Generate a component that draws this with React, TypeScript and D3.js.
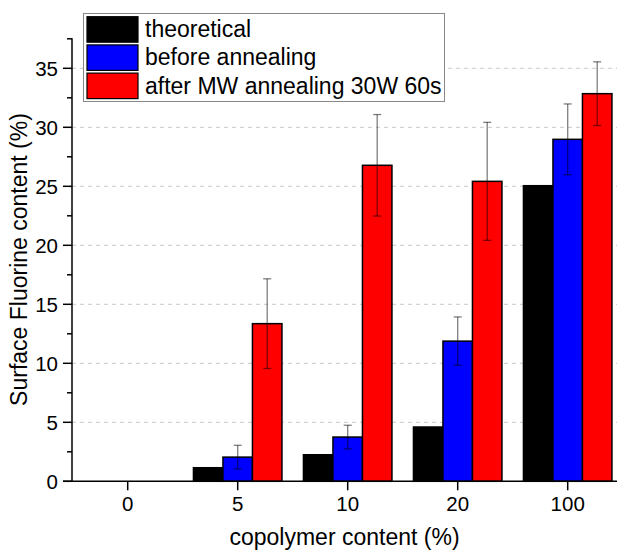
import { useEffect, useRef } from 'react';
import * as d3 from 'd3';

// values
const categories = ['0', '5', '10', '20', '100'];
const seriesNames = ['theoretical', 'before annealing', 'after MW annealing 30W 60s'];
const seriesColors = ['#000000', '#0000ff', '#ff0000'];
const theoretical = [0, 1.15, 2.25, 4.6, 25.05];
const beforeAnnealing = [0, 2.05, 3.75, 11.88, 28.98];
const beforeErr = [0, 1.0, 1.0, 2.05, 3.0];
const afterAnnealing = [0, 13.36, 26.78, 25.42, 32.85];
const afterErr = [0, 3.8, 4.3, 5.0, 2.7];
const majorTicks = [0, 5, 10, 15, 20, 25, 30, 35];
const minorTicks = [2.5, 7.5, 12.5, 17.5, 22.5, 27.5, 32.5, 37.5];

const FONT = '"Liberation Sans", Arial, sans-serif';

const App = () => {
  const svgRef = useRef<SVGSVGElement>(null);

  useEffect(() => {
    if (!svgRef.current) return;
    const svg = d3.select(svgRef.current);
    svg.selectAll('*').remove();

    const left = 72;
    const right = 617;
    const top = 38.8;
    const bottom = 481.3;

    const x = d3.scaleBand().domain(categories).range([72.7, 622.7]);
    const inner = d3.scaleBand().domain(seriesNames).range([-44.25, 44.25]);
    const y = d3.scaleLinear().domain([0, 37.5]).range([bottom, top]);

    const values = [theoretical, beforeAnnealing, afterAnnealing];
    const errors = [null, beforeErr, afterErr];

    // gridlines
    svg
      .selectAll('.grid')
      .data(majorTicks.filter((t) => t > 0))
      .enter()
      .append('line')
      .attr('x1', left)
      .attr('x2', right)
      .attr('y1', (d) => y(d))
      .attr('y2', (d) => y(d))
      .attr('stroke', '#c8c8c8')
      .attr('stroke-width', 1)
      .attr('stroke-dasharray', '4,4');

    // bars
    type Bar = { cat: string; s: number; v: number; e: number | null };
    const bars: Bar[] = [];
    categories.forEach((c, i) => {
      values.forEach((arr, s) => {
        if (arr[i] > 0) bars.push({ cat: c, s, v: arr[i], e: errors[s] ? errors[s]![i] : null });
      });
    });

    const cx = (d: Bar) => x(d.cat)! + x.bandwidth() / 2 + inner(seriesNames[d.s])!;

    svg
      .selectAll('.bar')
      .data(bars)
      .enter()
      .append('rect')
      .attr('x', (d) => cx(d))
      .attr('y', (d) => y(d.v))
      .attr('width', inner.bandwidth())
      .attr('height', (d) => bottom - y(d.v))
      .attr('fill', (d) => seriesColors[d.s])
      .attr('stroke', '#000')
      .attr('stroke-width', 1.5);

    // error bars
    const eb = bars.filter((d) => d.e !== null && d.e > 0);
    const mid = (d: Bar) => cx(d) + inner.bandwidth() / 2;
    const g = svg.append('g').attr('stroke', '#000').attr('stroke-opacity', 0.5).attr('stroke-width', 1.3);
    g.selectAll('.ev')
      .data(eb)
      .enter()
      .append('line')
      .attr('x1', mid)
      .attr('x2', mid)
      .attr('y1', (d) => y(d.v + d.e!))
      .attr('y2', (d) => y(d.v - d.e!));
    [1, -1].forEach((sign, k) => {
      g.selectAll('.cap' + k)
        .data(eb)
        .enter()
        .append('line')
        .attr('x1', (d) => mid(d) - 4)
        .attr('x2', (d) => mid(d) + 4)
        .attr('y1', (d) => y(d.v + sign * d.e!))
        .attr('y2', (d) => y(d.v + sign * d.e!));
    });

    // y axis
    const axis = svg.append('g').attr('stroke', '#000').attr('stroke-width', 1.5);
    axis.append('line').attr('x1', left).attr('x2', left).attr('y1', top - 0.5).attr('y2', bottom);
    axis
      .selectAll('.ymaj')
      .data(majorTicks)
      .enter()
      .append('line')
      .attr('x1', left - 9)
      .attr('x2', left)
      .attr('y1', (d) => y(d))
      .attr('y2', (d) => y(d));
    axis
      .selectAll('.ymin')
      .data(minorTicks)
      .enter()
      .append('line')
      .attr('x1', left - 5)
      .attr('x2', left)
      .attr('y1', (d) => y(d))
      .attr('y2', (d) => y(d));

    svg
      .selectAll('.ylab')
      .data(majorTicks)
      .enter()
      .append('text')
      .attr('x', left - 14)
      .attr('y', (d) => y(d))
      .attr('dy', '0.36em')
      .attr('text-anchor', 'end')
      .attr('font-family', FONT)
      .attr('font-size', 20.5)
      .attr('fill', '#000')
      .text((d) => d);

    // x axis
    axis.append('line').attr('x1', left - 9).attr('x2', right).attr('y1', bottom).attr('y2', bottom);
    axis
      .selectAll('.xt')
      .data(categories)
      .enter()
      .append('line')
      .attr('x1', (d) => x(d)! + x.bandwidth() / 2)
      .attr('x2', (d) => x(d)! + x.bandwidth() / 2)
      .attr('y1', bottom)
      .attr('y2', bottom + 9);

    svg
      .selectAll('.xlab')
      .data(categories)
      .enter()
      .append('text')
      .attr('x', (d) => x(d)! + x.bandwidth() / 2)
      .attr('y', 511)
      .attr('text-anchor', 'middle')
      .attr('font-family', FONT)
      .attr('font-size', 20.5)
      .attr('fill', '#000')
      .text((d) => d);

    // axis titles
    svg
      .append('text')
      .attr('x', (left + right) / 2)
      .attr('y', 545)
      .attr('text-anchor', 'middle')
      .attr('font-family', FONT)
      .attr('font-size', 23)
      .text('copolymer content (%)');

    svg
      .append('text')
      .attr('transform', 'translate(26.5,259.5) rotate(-90)')
      .attr('text-anchor', 'middle')
      .attr('font-family', FONT)
      .attr('font-size', 23)
      .text('Surface Fluorine content (%)');

    // legend
    const lg = svg.append('g');
    lg.append('rect')
      .attr('x', 83.5)
      .attr('y', 13.5)
      .attr('width', 361)
      .attr('height', 88)
      .attr('fill', '#fff')
      .attr('stroke', '#888')
      .attr('stroke-width', 1);
    seriesNames.forEach((name, i) => {
      const rowY = 16.7 + i * 28.2;
      lg.append('rect')
        .attr('x', 87)
        .attr('y', rowY)
        .attr('width', 51)
        .attr('height', 25.5)
        .attr('fill', seriesColors[i])
        .attr('stroke', '#000')
        .attr('stroke-width', 1.2);
      lg.append('text')
        .attr('x', 145)
        .attr('y', rowY + 20.5)
        .attr('font-family', FONT)
        .attr('font-size', 23)
        .attr('fill', '#000')
        .text(name);
    });
  }, []);

  return (
    <svg
      ref={svgRef}
      width={621}
      height={551}
      style={{ position: 'absolute', left: 0, top: 0, background: '#fff' }}
    ></svg>
  );
};

export default App;
